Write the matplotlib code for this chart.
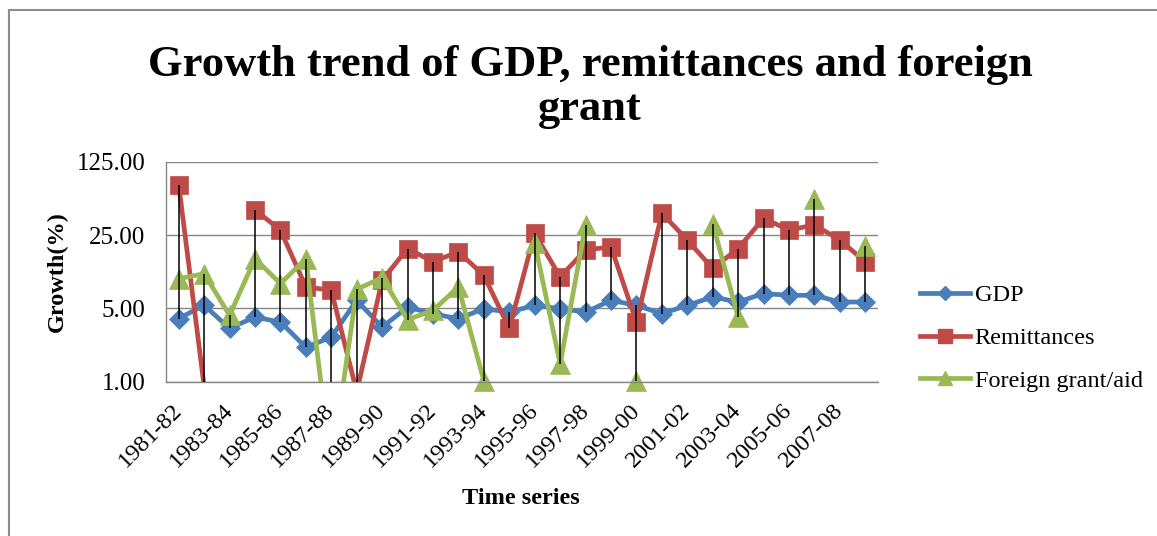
import numpy as np
import matplotlib
matplotlib.use("Agg")
import matplotlib.pyplot as plt
from matplotlib.lines import Line2D
from matplotlib.patches import Rectangle
from matplotlib.ticker import NullLocator

# Fiscal years on the category axis
years = ["1981-82", "1982-83", "1983-84", "1984-85", "1985-86", "1986-87",
         "1987-88", "1988-89", "1989-90", "1990-91", "1991-92", "1992-93",
         "1993-94", "1994-95", "1995-96", "1996-97", "1997-98", "1998-99",
         "1999-00", "2000-01", "2001-02", "2002-03", "2003-04", "2004-05",
         "2005-06", "2006-07", "2007-08", "2008-09"]

# Growth rates (%); nan = no figure reported for that year
gdp = [4.0, 5.35, 3.22, 4.13, 3.70, 2.13, 2.66, 5.96, 3.31, 5.14, 4.44, 3.98,
       4.97, 4.6, 5.35, 4.97, 4.6, 5.96, 5.35, 4.44, 5.35, 6.41, 5.75, 6.92,
       6.66, 6.66, 5.75, 5.75]
remittances = [75.3, 0.9, np.nan, 43.3, 27.9, 8.0, 7.44, 0.8, 9.27, 18.6,
               13.9, 17.3, 10.3, 3.22, 25.9, 9.97, 18.0, 19.3, 3.70, 40.3,
               22.4, 12.0, 18.6, 36.1, 27.9, 31.2, 22.4, 13.9]
foreign_aid = [9.6, 10.7, 4.29, 14.9, 8.6, 14.9, 0.15, 7.6, 9.8, 3.9, 4.78,
               8.0, 1.02, np.nan, 21.0, 1.48, 31.0, np.nan, 1.01, np.nan,
               np.nan, 32.0, 4.13, np.nan, np.nan, 55.0, np.nan, 19.5]

series_names = ["GDP", "Remittances", "Foreign grant/aid"]
series_colors = ["#4a7ebb", "#be4b48", "#98b954"]
series_markers = ["D", "s", "^"]
series_msize = [10, 13.5, 14]
legend_msize = [7, 9.5, 10.5]

y_ticks = [1, 5, 25, 125]
y_tick_labels = ["1.00", "5.00", "25.00", "125.00"]

title_lines = ["Growth trend of GDP, remittances and foreign", "grant"]

plt.rcParams["font.family"] = ["Liberation Serif", "DejaVu Serif"]

W, H = 1157, 536
fig = plt.figure(figsize=(W / 100, H / 100), dpi=100)
ax = fig.add_axes([166 / W, 1 - 381.7 / H, (878 - 166) / W, (381.7 - 161.7) / H])

x = np.arange(len(years))
ax.set_yscale("log", base=5)
ax.set_xlim(-0.5, len(years) - 0.5)
ax.set_ylim(y_ticks[0], y_ticks[-1])

all_series = [np.array(gdp, float), np.array(remittances, float),
              np.array(foreign_aid, float)]

for k, vals in enumerate(all_series):
    z = 2 + 0.1 * k
    c = series_colors[k]
    # connecting line, cut at the plot area
    ax.plot(x, vals, color=c, lw=3.4, solid_joinstyle="round",
            solid_capstyle="round", zorder=z, clip_on=True)
    # markers for points that fall inside the value axis range
    lo, hi = ax.get_ylim()
    shown = np.where((vals >= lo * 0.97) & (vals <= hi * 1.03), vals, np.nan)
    ax.plot(x, shown, ls="none", marker=series_markers[k],
            ms=series_msize[k], color=c, mec=c, mew=0.5,
            zorder=z + 0.05, clip_on=False)

# high-low lines joining the extremes at each year
stack = np.vstack(all_series)
lows = np.nanmin(stack, axis=0)
highs = np.nanmax(stack, axis=0)
ax.vlines(x, lows, highs, color="black", lw=1.1, zorder=4)

# axes styling
for side in ("top", "right"):
    ax.spines[side].set_visible(False)
for side in ("left", "bottom"):
    ax.spines[side].set_color("#868686")
    ax.spines[side].set_linewidth(1.0)
ax.yaxis.grid(True, color="#868686", lw=1.0)
ax.set_axisbelow(True)

ax.set_yticks(y_ticks)
ax.set_yticklabels(y_tick_labels, fontsize=18)
ax.yaxis.set_minor_locator(NullLocator())
ax.tick_params(axis="y", length=0, pad=15)

ax.set_xticks(x[::2])
ax.set_xticklabels(years[::2], rotation=45, ha="right", va="center",
                   rotation_mode="anchor", fontsize=17.5)
ax.tick_params(axis="x", length=0, pad=18)

# titles and axis names
fig.text(590 / W, 1 - 76 / H, title_lines[0], ha="center", va="baseline",
         fontsize=32, weight="bold")
fig.text(590 / W, 1 - 120 / H, title_lines[1], ha="center", va="baseline",
         fontsize=32, weight="bold")
fig.text(57 / W, 1 - 271.7 / H, "Growth(%)", rotation=90, ha="center",
         va="center", fontsize=17.5, weight="bold")
fig.text(521 / W, 1 - 498 / H, "Time series", ha="center", va="center",
         fontsize=17.5, weight="bold")

# legend
handles = [Line2D([], [], color=series_colors[k], lw=3.4,
                  marker=series_markers[k], ms=legend_msize[k],
                  mec=series_colors[k]) for k in range(3)]
fig.legend(handles, series_names, loc="center left",
           bbox_to_anchor=(920 / W, 1 - 338 / H), frameon=False,
           borderpad=0, borderaxespad=0, handlelength=2.05,
           handletextpad=0.2, labelspacing=0.85, fontsize=17.5)

# chart-area border
fig.add_artist(Rectangle((9 / W, -0.1), 1.2, 1 - 10 / H + 0.1,
                         transform=fig.transFigure, fill=False,
                         edgecolor="#8c8c8c", lw=1.5))

fig.savefig("out.png", dpi=100)
